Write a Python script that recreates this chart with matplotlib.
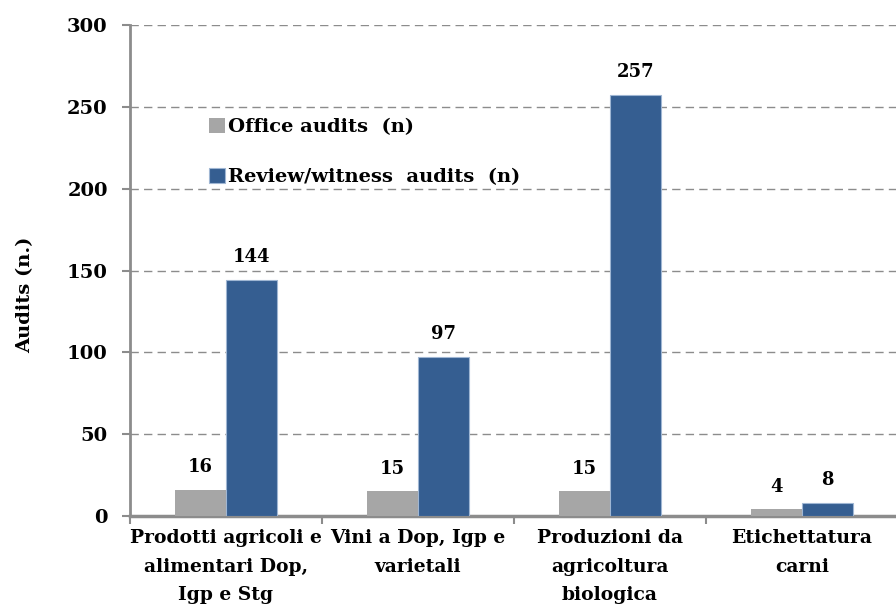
import matplotlib
matplotlib.use("Agg")
import matplotlib.pyplot as plt
import numpy as np

categories = ["Prodotti agricoli e\nalimentari Dop,\nIgp e Stg",
              "Vini a Dop, Igp e\nvarietali",
              "Produzioni da\nagricoltura\nbiologica",
              "Etichettatura\ncarni"]
office = [16, 15, 15, 4]
review = [144, 97, 257, 8]
series_names = ["Office audits  (n)", "Review/witness  audits  (n)"]
yticks = [0, 50, 100, 150, 200, 250, 300]

plt.rcParams['font.family'] = ['DejaVu Serif']
plt.rcParams['font.weight'] = 'bold'

fig = plt.figure(figsize=(8.96, 6.16), dpi=100)
ax = fig.add_axes([0.145, 0.1623, 0.857, 0.7971])

x = np.arange(len(categories))
w = 0.265
b1 = ax.bar(x - w/2, office, w, color='#a6a6a6', label=series_names[0], zorder=3)
b2 = ax.bar(x + w/2, review, w, color='#355e91', edgecolor='#9fb6d3', linewidth=0.8,
            label=series_names[1], zorder=3)

for rect, v in zip(b1, office):
    ax.annotate(str(v), (rect.get_x() + rect.get_width()/2, v), xytext=(0, 10),
                textcoords='offset points', ha='center', va='bottom', fontsize=13, fontweight='bold')
for rect, v in zip(b2, review):
    ax.annotate(str(v), (rect.get_x() + rect.get_width()/2, v), xytext=(0, 10),
                textcoords='offset points', ha='center', va='bottom', fontsize=13, fontweight='bold')

ax.set_xlim(-0.5, 3.5)
ax.set_ylim(0, 300)
ax.set_yticks(yticks)
ax.set_yticklabels([str(t) for t in yticks], fontsize=14, fontweight='bold')
ax.yaxis.grid(True, linestyle=(0, (6, 3.75)), color='#8c8c8c', linewidth=1.0, zorder=0)
ax.set_axisbelow(True)

ax.set_xticks([-0.5, 0.5, 1.5, 2.5, 3.5])
ax.set_xticklabels([])
ax.tick_params(axis='x', length=6, width=1.5, color='#8c8c8c', direction='out')
ax.tick_params(axis='y', length=6, width=1.5, color='#8c8c8c', direction='out', pad=10)
for i, c in enumerate(categories):
    ax.text(i, -8, c, ha='center', va='top', fontsize=13.5, fontweight='bold',
            linespacing=1.75)

for s in ['top', 'right']:
    ax.spines[s].set_visible(False)
ax.spines['left'].set_color('#8c8c8c')
ax.spines['left'].set_linewidth(2)
ax.spines['bottom'].set_color('#8c8c8c')
ax.spines['bottom'].set_linewidth(2.5)

ax.set_ylabel("Audits (n.)", fontsize=14, fontweight='bold')
ax.yaxis.set_label_coords(-0.125, 0.45)

leg = ax.legend(loc='upper left', bbox_to_anchor=(0.09, 0.83), frameon=False,
                borderpad=0, handlelength=0.82, handleheight=0.82, handletextpad=0.15,
                labelspacing=1.6, prop={'size': 14, 'weight': 'bold'})

fig.savefig("out.png", dpi=100)
